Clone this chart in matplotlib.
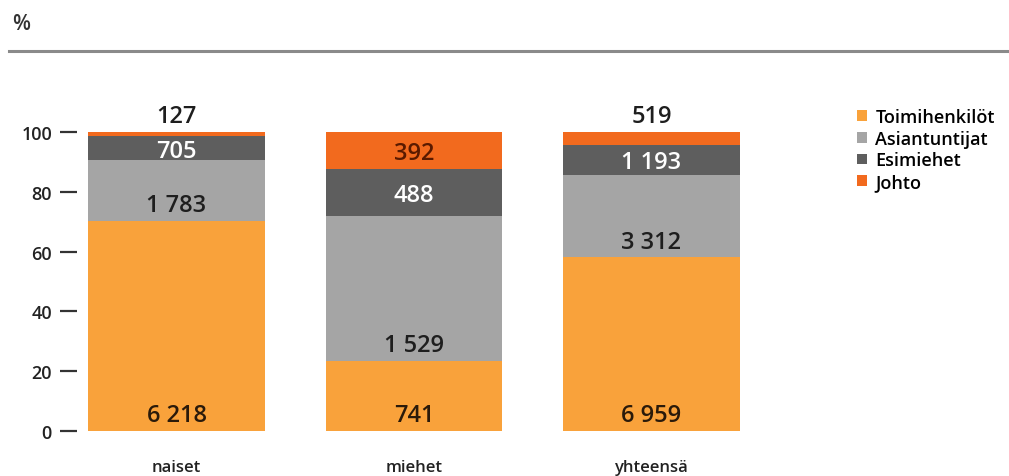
import matplotlib
matplotlib.use("Agg")
import matplotlib.pyplot as plt
from matplotlib.patches import Patch
import numpy as np

plt.rcParams['font.family'] = ['Open Sans', 'DejaVu Sans']
plt.rcParams['font.weight'] = 'semibold'

categories = ['naiset', 'miehet', 'yhteensä']
series_names = ['Toimihenkilöt', 'Asiantuntijat', 'Esimiehet', 'Johto']
toimihenkilot = [6218, 741, 6959]
asiantuntijat = [1783, 1529, 3312]
esimiehet = [705, 488, 1193]
johto = [127, 392, 519]
yticks = [0, 20, 40, 60, 80, 100]

colors = ['#F9A23B', '#A5A5A5', '#5E5E5E', '#F26A1E']
text_colors = ['#2a1a0a', '#1e1e1e', '#ffffff', '#5a1a00']

counts = np.array([toimihenkilot, asiantuntijat, esimiehet, johto], dtype=float)
pct = counts / counts.sum(axis=0) * 100

W, H = 1009, 477
fig = plt.figure(figsize=(W / 100, H / 100), dpi=100)
ax = fig.add_axes([77 / W, 1 - 432 / H, (760 - 77) / W, (432 - 133) / H])

x = np.arange(len(categories))
bottom = np.zeros(len(categories))
for i, name in enumerate(series_names):
    ax.bar(x, pct[i], bottom=bottom, width=0.745, color=colors[i], label=name)
    for j in range(len(categories)):
        val = f"{int(counts[i, j]):,}".replace(",", " ")
        if i == 3 and pct[i, j] < 5:
            ax.text(x[j], 100 + 1.2, val, ha='center', va='bottom',
                    fontsize=17, color='#1e1e1e')
        elif i in (0, 1):
            ax.text(x[j], bottom[j] + 1.2, val, ha='center', va='bottom',
                    fontsize=17, color=text_colors[i])
        else:
            ax.text(x[j], bottom[j] + pct[i, j] / 2 - 0.8, val, ha='center', va='center',
                    fontsize=17, color=text_colors[i])
    bottom += pct[i]

ax.set_xlim(-0.419, 2.457)
ax.set_ylim(0, 100)
ax.set_yticks(yticks)
ax.set_yticklabels([str(t) for t in yticks], fontsize=13, color='#222222')
ax.set_xticks(x)
ax.set_xticklabels(categories, fontsize=12, color='#222222')
ax.tick_params(axis='y', length=12, width=1.6, color='#333333', pad=6)
ax.tick_params(axis='x', length=0, pad=20)
for s in ax.spines.values():
    s.set_visible(False)

# header
fig.text(12 / W, 1 - 25 / H, '%', fontsize=15, color='#333333', va='center')
fig.add_artist(plt.Line2D([9 / W, 1.0], [1 - 52 / H, 1 - 52 / H],
                          color='#8a8a8a', linewidth=2.2))

handles = [Patch(facecolor=c, edgecolor='none') for c in colors]
fig.legend(handles, series_names, loc='upper left',
           bbox_to_anchor=(850 / W, 1 - 102 / H), frameon=False,
           fontsize=13, handlelength=0.55, handleheight=0.55,
           handletextpad=0.45, labelspacing=0.2, borderaxespad=0)

fig.savefig('out.png', dpi=100)
